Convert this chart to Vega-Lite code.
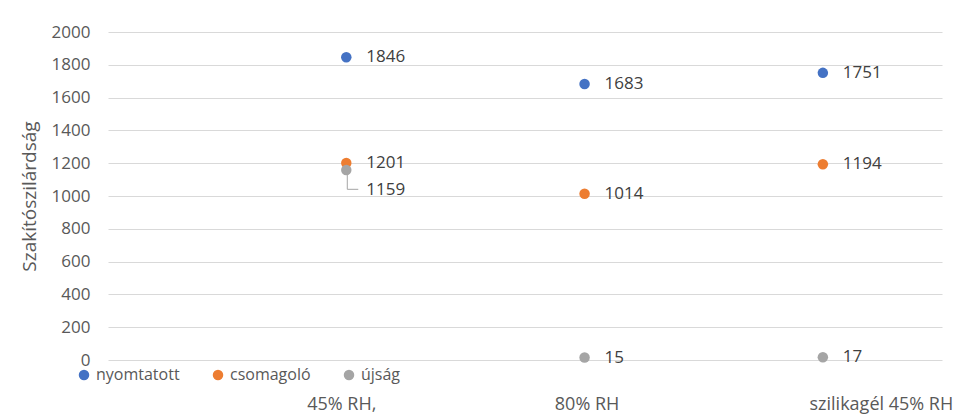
{
  "$schema": "https://vega.github.io/schema/vega-lite/v6.json",
  "autosize": {"type": "none"},
  "width": 834,
  "height": 328,
  "padding": {"left": 108, "top": 32, "right": 26, "bottom": 59},
  "background": "white",
  "config": {
    "font": "Open Sans",
    "view": {"stroke": null},
    "axis": {"labelFont": "Open Sans", "titleFont": "Open Sans"}
  },
  "data": {
    "values": [
      {"kat": "45% RH,", "i": 1, "sorozat": "nyomtatott", "ertek": 1846},
      {"kat": "80% RH", "i": 2, "sorozat": "nyomtatott", "ertek": 1683},
      {"kat": "szilikagél 45% RH", "i": 3, "sorozat": "nyomtatott", "ertek": 1751},
      {"kat": "45% RH,", "i": 1, "sorozat": "csomagoló", "ertek": 1201},
      {"kat": "80% RH", "i": 2, "sorozat": "csomagoló", "ertek": 1014},
      {"kat": "szilikagél 45% RH", "i": 3, "sorozat": "csomagoló", "ertek": 1194},
      {"kat": "45% RH,", "i": 1, "sorozat": "újság", "ertek": 1159},
      {"kat": "80% RH", "i": 2, "sorozat": "újság", "ertek": 15},
      {"kat": "szilikagél 45% RH", "i": 3, "sorozat": "újság", "ertek": 17}
    ]
  },
  "encoding": {
    "x": {
      "field": "i", "type": "quantitative",
      "scale": {"domain": [0, 3.5], "nice": false, "zero": false},
      "axis": {
        "title": null, "grid": false, "domain": false, "ticks": false,
        "values": [1, 2, 3],
        "labelExpr": "['', '45% RH,', '80% RH', 'szilikagél 45% RH'][datum.value]",
        "labelFontSize": 18, "labelColor": "#595959",
        "labelBaseline": "top", "labelPadding": 35,
        "labelOffset": {"condition": [{"test": "datum.value === 3", "value": 58}, {"test": "datum.value === 1", "value": -5}], "value": 2}
      }
    },
    "y": {
      "field": "ertek", "type": "quantitative",
      "scale": {"domain": [0, 2000], "nice": false},
      "axis": {
        "title": "Szakítószilárdság", "titleFontSize": 19, "titleFontWeight": "normal",
        "titleColor": "#595959", "titlePadding": 12,
        "format": "d",
        "values": [0, 200, 400, 600, 800, 1000, 1200, 1400, 1600, 1800, 2000],
        "labelFontSize": 17, "labelColor": "#595959", "labelPadding": 18,
        "domain": false, "ticks": false,
        "gridColor": "#D9D9D9", "gridWidth": 1.2
      }
    }
  },
  "layer": [
    {
      "transform": [{"filter": "datum.ertek === 1159"}],
      "mark": {"type": "point", "shape": "M0.05,0.15 L0.05,0.97 L0.6,0.97", "size": 1600, "filled": false, "stroke": "#A5A5A5", "strokeWidth": 1, "opacity": 1},
      "encoding": {}
    },
    {
      "mark": {"type": "circle", "size": 110, "opacity": 1},
      "encoding": {
        "color": {
          "field": "sorozat", "type": "nominal",
          "scale": {"domain": ["nyomtatott", "csomagoló", "újság"], "range": ["#4472C4", "#ED7D31", "#A5A5A5"]},
          "legend": {
            "title": null, "orient": "none", "direction": "horizontal",
            "legendX": -32, "legendY": 335,
            "symbolType": "circle", "symbolSize": 110, "symbolOpacity": 1,
            "labelFontSize": 16, "labelColor": "#595959", "labelFont": "Open Sans",
            "labelOffset": 4, "columnPadding": 30
          }
        }
      }
    },
    {
      "transform": [{"filter": "datum.ertek !== 1159"}],
      "mark": {"type": "text", "align": "left", "baseline": "middle", "dx": 20, "fontSize": 17, "color": "#404040"},
      "encoding": {"text": {"field": "ertek", "type": "quantitative"}}
    },
    {
      "transform": [{"filter": "datum.ertek === 1159"}],
      "mark": {"type": "text", "align": "left", "baseline": "middle", "dx": 20, "dy": 20, "fontSize": 17, "color": "#404040"},
      "encoding": {"text": {"field": "ertek", "type": "quantitative"}}
    }
  ]
}
